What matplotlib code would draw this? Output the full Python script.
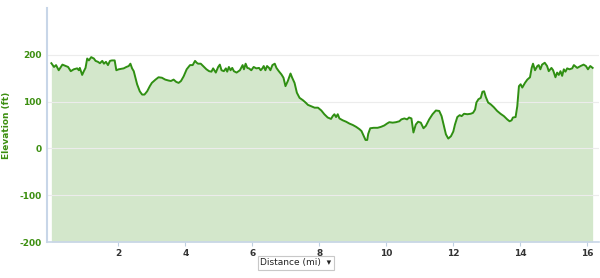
import numpy
import matplotlib
matplotlib.use("Agg")
import matplotlib.pyplot as plt

# distance (mi) and elevation (ft)
distance = [0.00, 0.08, 0.14, 0.22, 0.33, 0.43, 0.50, 0.58, 0.67, 0.77, 0.82, 0.85, 0.92, 0.97,
            1.02, 1.07, 1.12, 1.19, 1.27, 1.32, 1.39, 1.45, 1.52, 1.57, 1.63, 1.69, 1.75, 1.81,
            1.89, 1.94, 2.01, 2.08, 2.16, 2.24, 2.31, 2.36, 2.41, 2.46, 2.51, 2.56, 2.64, 2.71,
            2.78, 2.86, 2.94, 3.00, 3.11, 3.20, 3.30, 3.40, 3.50, 3.57, 3.65, 3.73, 3.80, 3.87,
            3.95, 4.04, 4.14, 4.22, 4.29, 4.34, 4.38, 4.46, 4.53, 4.63, 4.71, 4.78, 4.83, 4.91,
            4.98, 5.03, 5.08, 5.15, 5.21, 5.25, 5.30, 5.35, 5.40, 5.45, 5.53, 5.63, 5.71, 5.75,
            5.80, 5.85, 5.90, 5.97, 6.04, 6.12, 6.20, 6.25, 6.30, 6.34, 6.39, 6.44, 6.50, 6.54,
            6.60, 6.67, 6.72, 6.79, 6.87, 6.93, 6.99, 7.06, 7.14, 7.19, 7.26, 7.33, 7.41, 7.51,
            7.59, 7.66, 7.76, 7.86, 7.96, 8.06, 8.15, 8.25, 8.35, 8.40, 8.45, 8.50, 8.55, 8.60,
            8.70, 8.80, 8.90, 9.00, 9.10, 9.20, 9.26, 9.33, 9.38, 9.43, 9.46, 9.52, 9.62, 9.74,
            9.84, 9.94, 10.02, 10.09, 10.19, 10.29, 10.39, 10.45, 10.54, 10.62, 10.68, 10.75,
            10.81, 10.88, 10.95, 11.03, 11.11, 11.18, 11.28, 11.38, 11.48, 11.58, 11.65, 11.71,
            11.78, 11.85, 11.93, 12.00, 12.05, 12.12, 12.19, 12.25, 12.32, 12.42, 12.52, 12.59,
            12.65, 12.69, 12.75, 12.82, 12.87, 12.92, 12.97, 13.04, 13.12, 13.21, 13.31, 13.41,
            13.51, 13.61, 13.68, 13.74, 13.78, 13.86, 13.91, 13.96, 14.01, 14.06, 14.14, 14.21,
            14.29, 14.34, 14.38, 14.44, 14.51, 14.55, 14.60, 14.65, 14.73, 14.80, 14.85, 14.93,
            14.98, 15.05, 15.10, 15.15, 15.20, 15.25, 15.30, 15.35, 15.40, 15.47, 15.55, 15.60,
            15.70, 15.80, 15.89, 15.96, 16.02, 16.09, 16.16]
elevation = [182, 174, 178, 167, 179, 176, 174, 165, 169, 171, 167, 172, 157, 165,
             172, 192, 188, 195, 192, 187, 185, 182, 187, 181, 185, 178, 187, 188,
             188, 167, 169, 170, 171, 174, 176, 181, 171, 165, 151, 137, 122, 115,
             115, 122, 133, 140, 147, 152, 151, 147, 145, 144, 147, 142, 140, 144,
             154, 169, 178, 178, 187, 183, 181, 181, 176, 169, 165, 164, 171, 162,
             174, 179, 167, 165, 171, 164, 174, 167, 172, 165, 162, 167, 178, 169,
             181, 172, 171, 167, 174, 171, 172, 167, 171, 176, 167, 176, 172, 167,
             178, 181, 172, 165, 158, 151, 133, 144, 160, 151, 140, 119, 108, 103,
             98, 93, 90, 87, 87, 81, 73, 66, 63, 69, 73, 67, 73, 64,
             60, 57, 53, 50, 46, 41, 37, 26, 18, 18, 31, 43, 44, 44,
             46, 49, 53, 56, 55, 56, 58, 62, 64, 62, 66, 64,
             34, 51, 57, 55, 43, 48, 62, 73, 81, 80, 69, 51,
             30, 21, 26, 36, 51, 67, 71, 69, 74, 73, 74, 76,
             83, 98, 105, 108, 121, 122, 110, 98, 94, 88, 80, 74,
             69, 62, 58, 60, 66, 67, 90, 133, 137, 130, 140, 147,
             152, 172, 181, 167, 176, 178, 169, 179, 183, 176, 165, 172,
             167, 152, 162, 157, 165, 155, 169, 164, 171, 169, 171, 178,
             172, 176, 179, 176, 169, 176, 172]

y_ticks = [-200, -100, 0, 100, 200]
x_ticks = [2, 4, 6, 8, 10, 12, 14, 16]

line_green = '#2f8f12'
fill_green = '#d3e7cb'
label_green = '#3c8f10'

fig = plt.figure(figsize=(6, 2.78), dpi=100)
ax = fig.add_axes([47 / 600.0, 1 - 242 / 278.0, 552 / 600.0, 234 / 278.0])

ax.fill_between(distance, elevation, -200, color=fill_green, linewidth=0)
ax.plot(distance, elevation, color=line_green, linewidth=1.4)

ax.set_xlim(-0.13, 16.35)
ax.set_ylim(-200, 300)
ax.set_yticks(y_ticks)
ax.set_yticklabels([str(v) for v in y_ticks], color=label_green, fontweight='bold', fontsize=6.5)
ax.set_xticks(x_ticks)
ax.set_xticklabels([str(v) for v in x_ticks], color='#333333', fontweight='bold', fontsize=6.5)
ax.tick_params(axis='y', length=0, pad=4)
ax.tick_params(axis='x', length=3, color='#c0d0e0', pad=2)

ax.grid(axis='y', color='#ececec', linewidth=0.8)
for g in ax.get_ygridlines():
    g.set_zorder(0.5)

for side in ['top', 'right']:
    ax.spines[side].set_visible(False)
ax.spines['left'].set_color('#c8d6e8')
ax.spines['left'].set_linewidth(1.5)
ax.spines['bottom'].set_color('#c8d6e8')
ax.spines['bottom'].set_linewidth(1.2)

ax.set_ylabel("Elevation (ft)", color=label_green, fontweight='bold', fontsize=6.5, labelpad=6)

# "Distance (mi)" dropdown box under the axis
fig.text(296 / 600.0, 1 - 263 / 278.0, u"Distance (mi)  \u25be", ha='center', va='center',
         fontsize=6.5, color='#222222',
         bbox=dict(boxstyle='square,pad=0.3', facecolor='white', edgecolor='#c8c8c8', linewidth=0.8))

plt.savefig("out.png", dpi=100)
